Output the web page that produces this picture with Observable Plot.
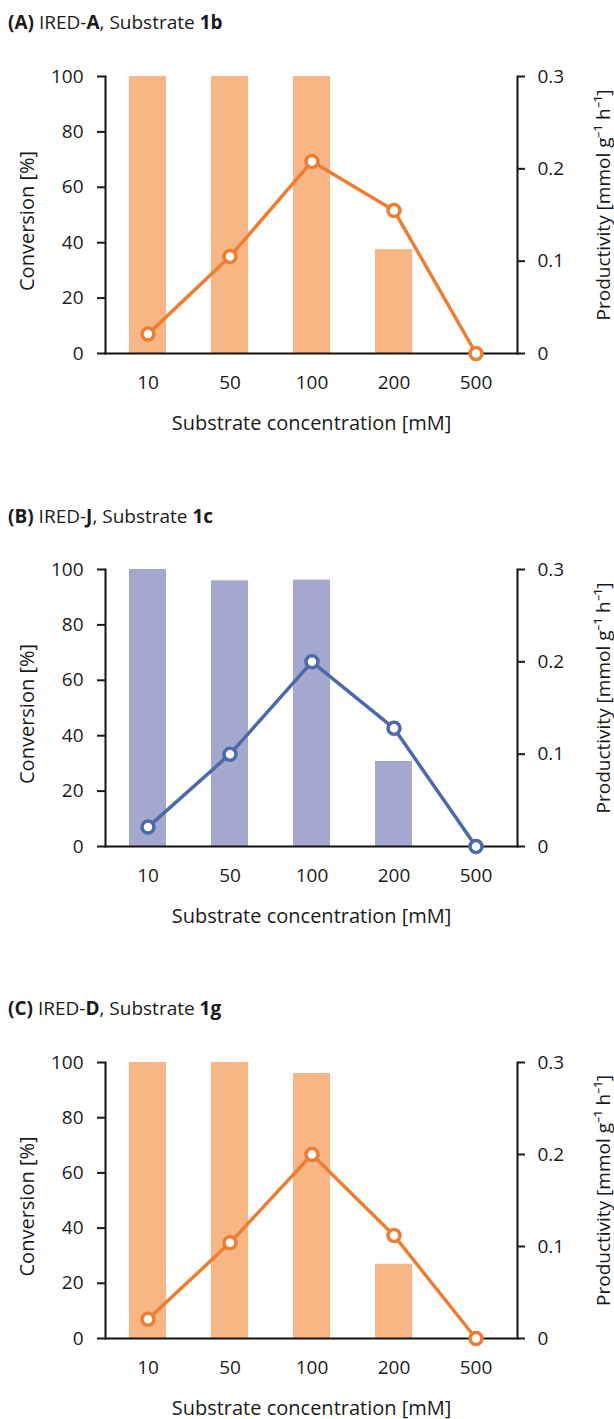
<!DOCTYPE html>
<html>
<head>
<meta charset="utf-8">
<script src="https://cdn.jsdelivr.net/npm/d3@7"></script>
<script src="https://cdn.jsdelivr.net/npm/@observablehq/plot@0.6"></script>
<style>
  html, body { margin: 0; padding: 0; background: #ffffff; }
  #root { position: relative; width: 614px; height: 1419px; font-family: "Open Sans", sans-serif; color: #1a1a1a; }
  .title { position: absolute; left: 8px; font-size: 19px; line-height: 24px; white-space: nowrap; }
  .title b { font-weight: 700; }
  .panel { position: absolute; left: 0; }
</style>
</head>
<body>
<div id="root"></div>
<script>
// ---- data ----
const concentrations = ["10", "50", "100", "200", "500"];
const convTicks = [0, 20, 40, 60, 80, 100];
const prodTicks = [0, 0.1, 0.2, 0.3];
const prodMax = 0.3;

// (A) IRED-A, Substrate 1b
const conversionA = [100, 100, 100, 37.5, 0];
const productivityA = [0.021, 0.105, 0.208, 0.155, 0];
// (B) IRED-J, Substrate 1c
const conversionB = [100, 95.9, 96.2, 30.7, 0];
const productivityB = [0.021, 0.100, 0.200, 0.128, 0];
// (C) IRED-D, Substrate 1g
const conversionC = [100, 100, 96.0, 26.9, 0];
const productivityC = [0.021, 0.104, 0.200, 0.112, 0];

const titles = [
  ["(A)", " IRED-", "A", ", Substrate ", "1b"],
  ["(B)", " IRED-", "J", ", Substrate ", "1c"],
  ["(C)", " IRED-", "D", ", Substrate ", "1g"]
];

const orangeBar = "#f7b683", orangeLine = "#ee7d31";
const blueBar = "#a4a8cf", blueLine = "#4c6aa8";

const xLabel = "Substrate concentration [mM]";
const yLabel = "Conversion [%]";
const y2Label = "Productivity [mmol g\u207B\u00B9 h\u207B\u00B9]";

function panel({conv, prod, barColor, lineColor, svgHeight, frameTop, frameBottom}) {
  const data = concentrations.map((c, i) => ({c, conv: conv[i], prod: prod[i]}));
  const toY = p => p * 100 / prodMax;
  const marginLeft = 105, marginRight = 614 - 517;
  return Plot.plot({
    width: 614,
    height: svgHeight,
    marginTop: frameTop,
    marginBottom: svgHeight - frameBottom,
    marginLeft,
    marginRight,
    style: {fontFamily: "'Open Sans', sans-serif", fontSize: "19px", color: "#1a1a1a", background: "transparent", overflow: "visible"},
    x: {domain: concentrations, paddingInner: 0.55, paddingOuter: 0.275, axis: null},
    y: {domain: [0, 100], axis: null},
    marks: [
      Plot.barY(data, {x: "c", y: "conv", fill: barColor}),
      Plot.frame({anchor: "left", stroke: "#111", strokeWidth: 2}),
      Plot.frame({anchor: "right", stroke: "#111", strokeWidth: 2}),
      Plot.frame({anchor: "bottom", stroke: "#111", strokeWidth: 2}),
      Plot.axisY({anchor: "left", ticks: convTicks, tickSize: 8, tickPadding: 14, strokeWidth: 2, label: null, tickFormat: d => String(d)}),
      Plot.axisY({anchor: "right", ticks: prodTicks.map(toY), tickSize: 7, tickPadding: 13, strokeWidth: 2, label: null,
        tickFormat: d => String(+(d * prodMax / 100).toFixed(1))}),
      Plot.axisX({anchor: "bottom", tickSize: 0, tickPadding: 22, label: null}),
      Plot.line(data, {x: "c", y: d => toY(d.prod), stroke: lineColor, strokeWidth: 3.5}),
      Plot.dot(data, {x: "c", y: d => toY(d.prod), r: 6, fill: "white", stroke: lineColor, strokeWidth: 3.5}),
      Plot.text([xLabel], {frameAnchor: "bottom", dy: 70, lineAnchor: "middle", textAnchor: "middle", fontSize: 20, fill: "#1a1a1a"}),
      Plot.text([yLabel], {frameAnchor: "left", dx: -78, dy: 6, rotate: -90, textAnchor: "middle", lineAnchor: "middle", fontSize: 20, fill: "#1a1a1a"}),
      Plot.text([y2Label], {frameAnchor: "right", dx: 86, dy: -10, rotate: -90, textAnchor: "middle", lineAnchor: "middle", fontSize: 19, fill: "#1a1a1a"})
    ]
  });
}

const root = document.getElementById("root");
const configs = [
  {conv: conversionA, prod: productivityA, barColor: orangeBar, lineColor: orangeLine, titleTop: 10, svgTop: 40, svgHeight: 460, frameTop: 76, frameBottom: 353},
  {conv: conversionB, prod: productivityB, barColor: blueBar, lineColor: blueLine, titleTop: 504, svgTop: 530, svgHeight: 460, frameTop: 569, frameBottom: 846},
  {conv: conversionC, prod: productivityC, barColor: orangeBar, lineColor: orangeLine, titleTop: 996, svgTop: 1025, svgHeight: 394, frameTop: 1062, frameBottom: 1338}
];
configs.forEach((cfg, i) => {
  const t = document.createElement("div");
  t.className = "title";
  t.style.top = cfg.titleTop + "px";
  const parts = titles[i];
  parts.forEach((p, j) => {
    const el = document.createElement(j % 2 === 0 ? "b" : "span");
    el.textContent = p;
    t.appendChild(el);
  });
  root.appendChild(t);
  const wrap = document.createElement("div");
  wrap.className = "panel";
  wrap.style.top = cfg.svgTop + "px";
  wrap.appendChild(panel({...cfg, frameTop: cfg.frameTop - cfg.svgTop, frameBottom: cfg.frameBottom - cfg.svgTop}));
  root.appendChild(wrap);
});
</script>
</body>
</html>
